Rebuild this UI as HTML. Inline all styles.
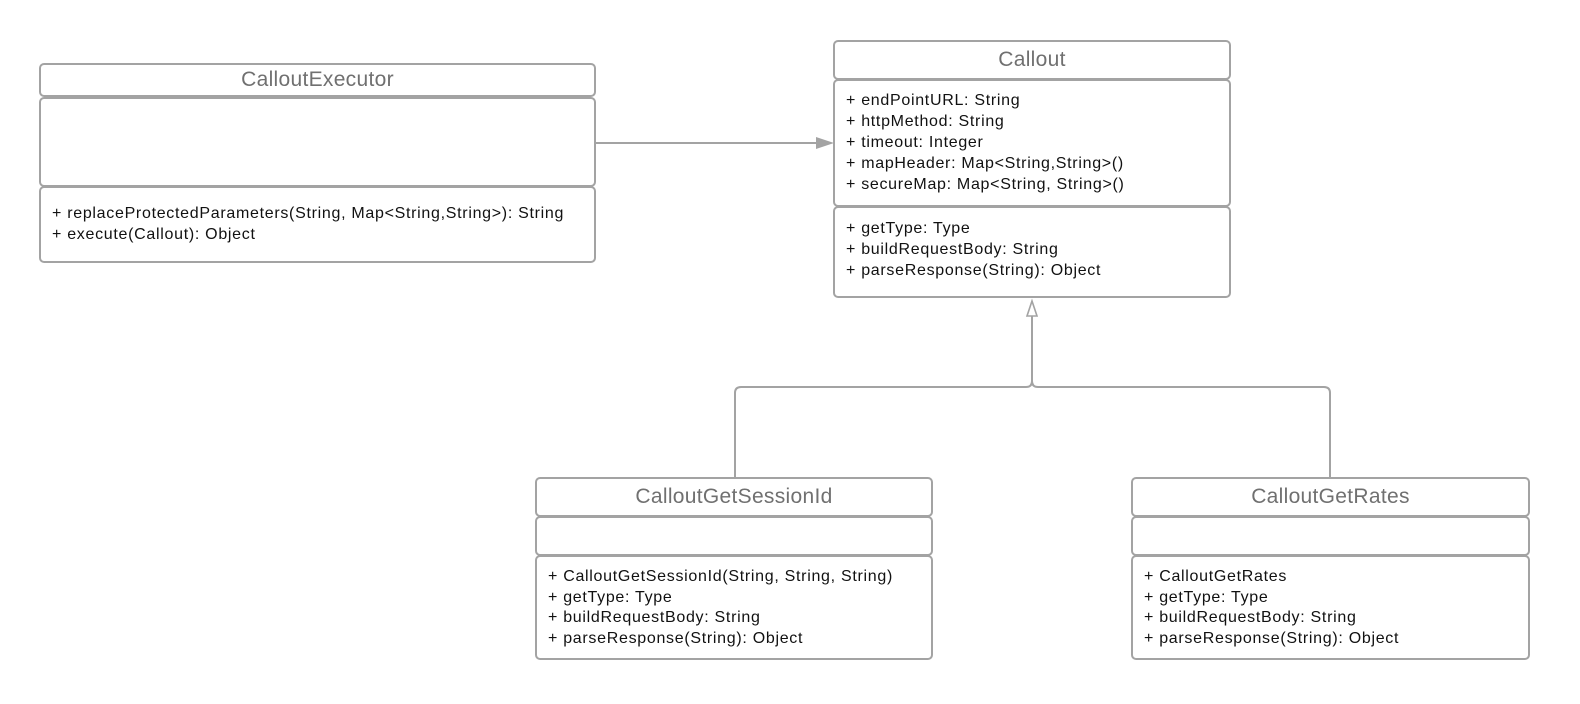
<!DOCTYPE html>
<html><head><meta charset="utf-8"><style>
body{margin:0;width:1580px;height:704px;background:#fff;position:relative;overflow:hidden;font-family:"Liberation Sans",sans-serif}
.b{position:absolute;box-sizing:border-box;border:2.5px solid #a3a3a3;border-radius:5px;background:#fff}
.h{color:#707070;font-size:21px;letter-spacing:0.3px;text-align:center}
.t{color:#111;font-size:16px;letter-spacing:0.7px;line-height:21px;padding-left:11px;white-space:nowrap}
</style></head><body>
<svg width="1580" height="704" style="position:absolute;left:0;top:0">
<line x1="596" y1="143" x2="820" y2="143" stroke="#a3a3a3" stroke-width="2"/>
<polygon points="834,143 816,137 816,149" fill="#a3a3a3"/>
<path d="M1032 316 V381 Q1032 387 1026 387 H741 Q735 387 735 393 V477" fill="none" stroke="#a3a3a3" stroke-width="2"/>
<path d="M1032 381 Q1032 387 1038 387 H1324 Q1330 387 1330 393 V477" fill="none" stroke="#a3a3a3" stroke-width="2"/>
<polygon points="1032,301 1027,316 1037,316" fill="#fff" stroke="#a3a3a3" stroke-width="1.6"/>
</svg>

<div class="b h" style="left:39px;top:63px;width:557px;height:34px;line-height:30px">CalloutExecutor</div>
<div class="b" style="left:39px;top:97px;width:557px;height:90px"></div>
<div class="b t" style="left:39px;top:186px;width:557px;height:77px;padding-top:15px">+ replaceProtectedParameters(String, Map&lt;String,String&gt;): String<br>+ execute(Callout): Object</div>

<div class="b h" style="left:833px;top:40px;width:398px;height:40px;line-height:35px">Callout</div>
<div class="b t" style="left:833px;top:79px;width:398px;height:128px;padding-top:9px">+ endPointURL: String<br>+ httpMethod: String<br>+ timeout: Integer<br>+ mapHeader: Map&lt;String,String&gt;()<br>+ secureMap: Map&lt;String, String&gt;()</div>
<div class="b t" style="left:833px;top:206px;width:398px;height:92px;padding-top:10px">+ getType: Type<br>+ buildRequestBody: String<br>+ parseResponse(String): Object</div>

<div class="b h" style="left:535px;top:477px;width:398px;height:40px;line-height:35px">CalloutGetSessionId</div>
<div class="b" style="left:535px;top:516px;width:398px;height:40px"></div>
<div class="b t" style="left:535px;top:555px;width:398px;height:105px;padding-top:10px;line-height:20.7px">+ CalloutGetSessionId(String, String, String)<br>+ getType: Type<br>+ buildRequestBody: String<br>+ parseResponse(String): Object</div>

<div class="b h" style="left:1131px;top:477px;width:399px;height:40px;line-height:35px">CalloutGetRates</div>
<div class="b" style="left:1131px;top:516px;width:399px;height:40px"></div>
<div class="b t" style="left:1131px;top:555px;width:399px;height:105px;padding-top:10px;line-height:20.7px">+ CalloutGetRates<br>+ getType: Type<br>+ buildRequestBody: String<br>+ parseResponse(String): Object</div>
</body></html>
